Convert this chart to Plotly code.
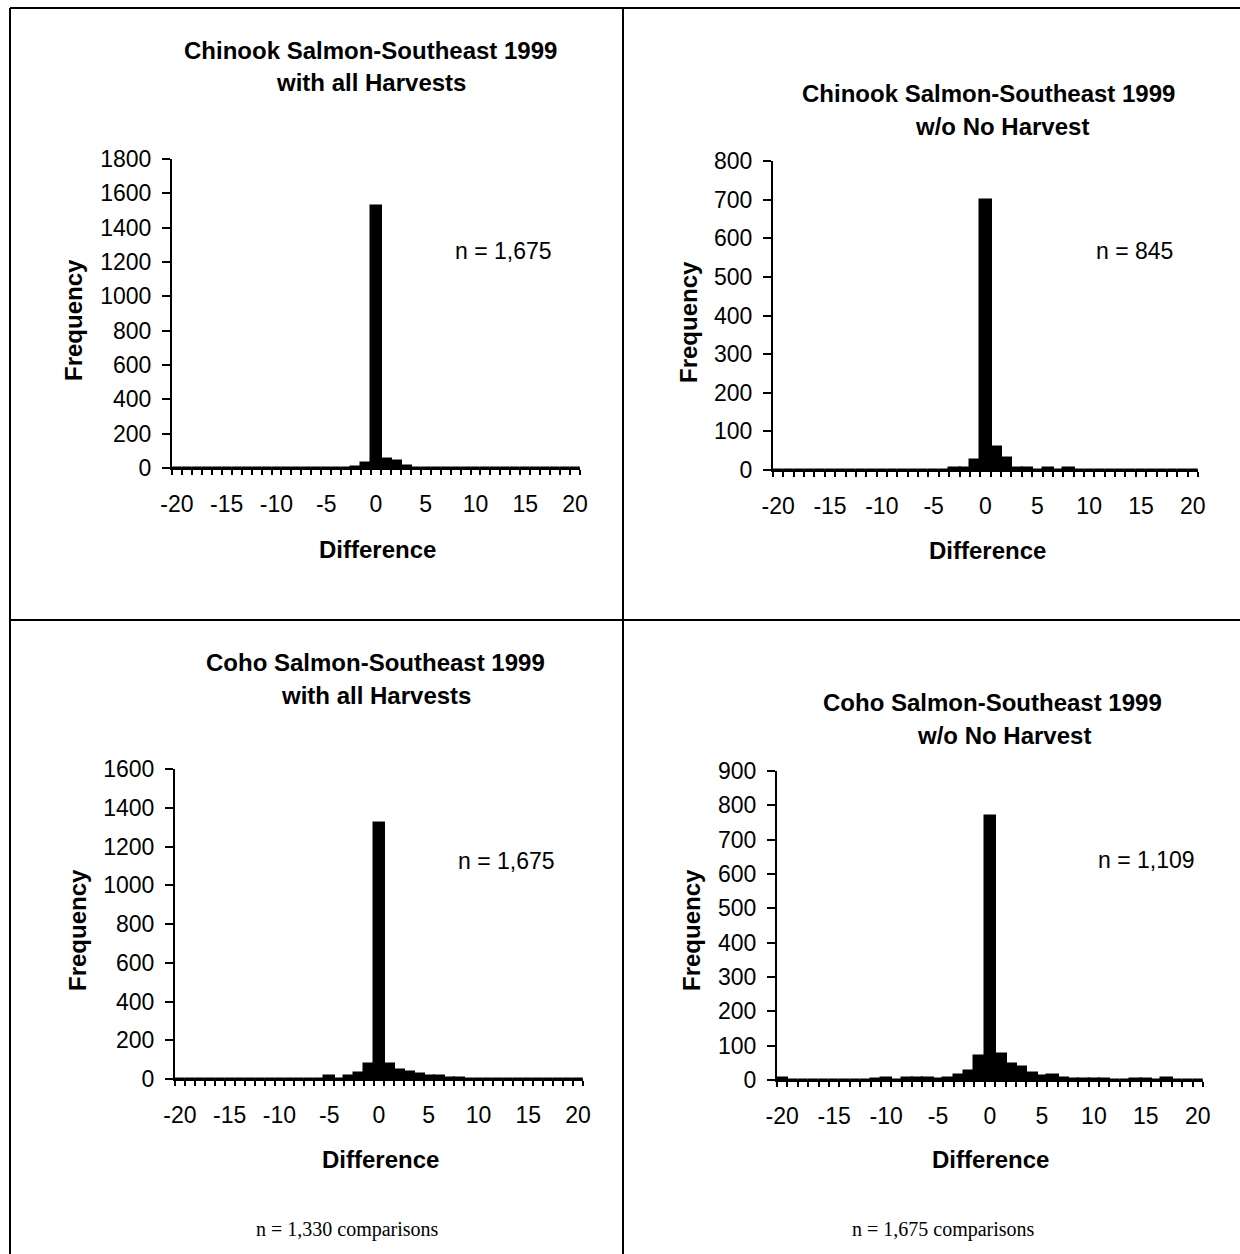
import plotly.graph_objects as go

W, H = 1240, 1254

# Difference bins shared by all four histograms
differences = list(range(-20, 21))

# Frequencies per difference bin (-20 .. 20)
chinook_all = [2, 1, 1, 0, 1, 0, 1, 1, 0, 1, 0, 1, 1, 1, 1, 2, 1, 2, 3, 28,
               1525, 52, 38, 12, 2, 1, 1, 0, 1, 0, 1, 0, 1, 0, 0, 1, 0, 0, 1, 0, 1]
chinook_wo = [0, 0, 0, 0, 0, 0, 0, 0, 0, 0, 0, 0, 0, 0, 0, 0, 0, 4, 5, 25,
              698, 60, 30, 5, 5, 1, 5, 1, 5, 0, 0, 0, 0, 0, 0, 0, 0, 0, 0, 0, 0]
coho_all = [2, 0, 0, 0, 0, 0, 0, 0, 0, 0, 0, 0, 0, 0, 0, 14, 2, 15, 30, 75,
            1320, 75, 46, 36, 26, 16, 16, 5, 4, 2, 1, 1, 0, 0, 0, 0, 0, 1, 0, 0, 0]
coho_wo = [5, 1, 1, 1, 1, 1, 1, 1, 1, 2, 5, 1, 5, 5, 5, 4, 5, 14, 26, 70,
           770, 76, 47, 38, 20, 12, 14, 6, 2, 2, 2, 2, 1, 1, 2, 2, 1, 5, 1, 1, 1]

panel_series = [chinook_all, chinook_wo, coho_all, coho_wo]
panel_title1 = ["Chinook Salmon-Southeast 1999", "Chinook Salmon-Southeast 1999",
                "Coho Salmon-Southeast 1999", "Coho Salmon-Southeast 1999"]
panel_title2 = ["with all Harvests", "w/o No Harvest", "with all Harvests", "w/o No Harvest"]
panel_n = ["n = 1,675", "n = 845", "n = 1,675", "n = 1,109"]
y_max = [1800, 800, 1600, 900]
y_step = [200, 100, 200, 100]
x_tick_vals = [-20, -15, -10, -5, 0, 5, 10, 15, 20]
footnotes = ["n = 1,330 comparisons", "n = 1,675 comparisons"]

# Plot-area pixel boxes: (left, right, top, bottom)
boxes = [(172, 580, 159, 468), (773, 1198, 161, 470),
         (175, 583, 769, 1079), (777, 1203, 771, 1080)]
title_pos = [((370, 50), (371, 83)), ((988, 93), (1002, 127)),
             ((375, 662), (376, 695)), ((992, 702), (1004, 735))]
n_pos = [(503, 251), (1134, 251), (506, 861), (1146, 860)]
ytitle_pos = [(74, 320), (689, 322), (77, 930), (691, 930)]
xtitle_pos = [(377, 549), (987, 550), (380, 1159), (990, 1159)]
foot_pos = [(347, 1229), (944, 1229)]


def fx(px):
    return px / W


def fy(py):
    return 1 - py / H


SANS = "Arial, Liberation Sans, sans-serif"
SERIF = "Times New Roman, Liberation Serif, serif"

fig = go.Figure()
layout = dict(
    template="none",
    width=W, height=H, margin=dict(l=0, r=0, t=0, b=0, pad=0, autoexpand=False),
    paper_bgcolor="white", plot_bgcolor="white", showlegend=False,
    bargap=0, font=dict(family=SANS, color="black"),
)

annotations = []
for i, vals in enumerate(panel_series):
    k = "" if i == 0 else str(i + 1)
    left, right, top, bottom = boxes[i]
    fig.add_trace(go.Bar(
        x=differences, y=vals, xaxis="x" + k, yaxis="y" + k,
        marker=dict(color="black", line=dict(color="black", width=2.5)),
        width=1.0,
    ))
    layout["xaxis" + k] = dict(
        domain=[fx(left), fx(right)], anchor="y" + k, range=[-20.5, 20.5],
        tickmode="array", tickvals=x_tick_vals, ticktext=[str(v) for v in x_tick_vals],
        ticks="", showline=True, linecolor="black", linewidth=2,
        showgrid=False, zeroline=False, tickfont=dict(size=23, family=SANS),
        ticklabelstandoff=14, automargin=False,
        minor=dict(ticks="outside", ticklen=5, tickcolor="black", tickwidth=1.5,
                   tick0=-20.5, dtick=1, showgrid=False),
        fixedrange=True,
    )
    layout["yaxis" + k] = dict(
        domain=[fy(bottom), fy(top)], anchor="x" + k, range=[0, y_max[i]],
        tickmode="linear", tick0=0, dtick=y_step[i],
        ticks="outside", ticklen=8, tickcolor="black", tickwidth=1.5,
        showline=True, linecolor="black", linewidth=2,
        showgrid=False, zeroline=False, tickfont=dict(size=23, family=SANS),
        ticklabelstandoff=6, automargin=False, fixedrange=True,
    )
    for (tx, ty), txt in zip(title_pos[i], [panel_title1[i], panel_title2[i]]):
        annotations.append(dict(
            x=fx(tx), y=fy(ty), xref="paper", yref="paper", text="<b>%s</b>" % txt,
            showarrow=False, xanchor="center", yanchor="middle",
            font=dict(size=24, family=SANS)))
    annotations.append(dict(
        x=fx(n_pos[i][0]), y=fy(n_pos[i][1]), xref="paper", yref="paper",
        text=panel_n[i], showarrow=False, xanchor="center", yanchor="middle",
        font=dict(size=23, family=SANS)))
    annotations.append(dict(
        x=fx(ytitle_pos[i][0]), y=fy(ytitle_pos[i][1]), xref="paper", yref="paper",
        text="<b>Frequency</b>", textangle=-90, showarrow=False,
        xanchor="center", yanchor="middle", font=dict(size=24, family=SANS)))
    annotations.append(dict(
        x=fx(xtitle_pos[i][0]), y=fy(xtitle_pos[i][1]), xref="paper", yref="paper",
        text="<b>Difference</b>", showarrow=False,
        xanchor="center", yanchor="middle", font=dict(size=24, family=SANS)))

for (tx, ty), txt in zip(foot_pos, footnotes):
    annotations.append(dict(
        x=fx(tx), y=fy(ty), xref="paper", yref="paper", text=txt,
        showarrow=False, xanchor="center", yanchor="middle",
        font=dict(size=20, family=SERIF)))

layout["annotations"] = annotations

# Frame and dividers between the four panels
line = dict(color="black", width=2)
layout["shapes"] = [
    dict(type="line", xref="paper", yref="paper", x0=fx(10), x1=fx(1240), y0=fy(8), y1=fy(8), line=line),
    dict(type="line", xref="paper", yref="paper", x0=fx(10), x1=fx(10), y0=fy(8), y1=fy(1254), line=line),
    dict(type="line", xref="paper", yref="paper", x0=fx(623), x1=fx(623), y0=fy(8), y1=fy(1254), line=line),
    dict(type="line", xref="paper", yref="paper", x0=fx(10), x1=fx(1240), y0=fy(620), y1=fy(620), line=line),
]

fig.update_layout(**layout)
fig.write_html("out.html")
